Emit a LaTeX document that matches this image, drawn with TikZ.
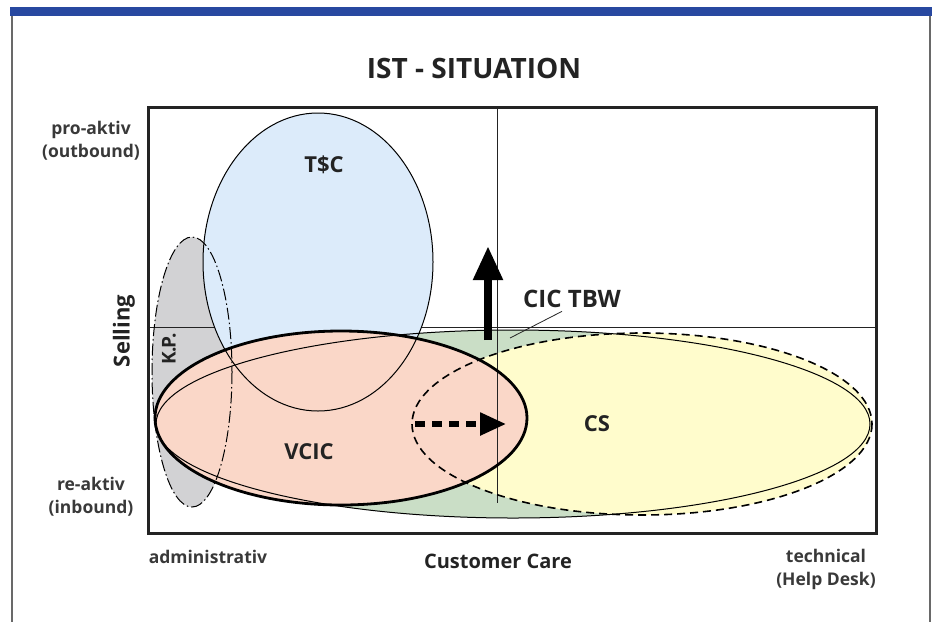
\documentclass[tikz,border=0pt]{standalone}
\usepackage{fontspec}
\setmainfont{Open Sans}
\usepackage{tikz}
\usetikzlibrary{arrows.meta,positioning}
\usepackage{xcolor}
\definecolor{istblue}{RGB}{40,72,160}
\definecolor{istframe}{RGB}{105,105,105}
\definecolor{istink}{RGB}{35,35,35}
\definecolor{tscblue}{RGB}{220,235,250}
\definecolor{kpgray}{RGB}{210,210,212}
\definecolor{vcicred}{RGB}{250,215,200}
\definecolor{tbwgreen}{RGB}{202,222,198}
\definecolor{csyellow}{RGB}{255,252,204}
\tikzstyle{frameline} = [line width=2pt, color=istframe]
\tikzstyle{gridline} = [line width=1pt, color=istink]
\tikzstyle{areatext} = [text=istink, font=\bfseries\fontsize{22}{26}\selectfont]
\tikzstyle{axistext} = [text=istink!90!white, font=\bfseries\fontsize{17.5}{23}\selectfont, align=center]
\tikzstyle{bigarrow} = [line width=8pt, -{Triangle[width=28pt,length=34pt]}, color=black]
\tikzstyle{movearrow} = [line width=5.5pt, dash pattern=on 10pt off 7pt, -{Triangle[width=22pt,length=26pt]}, color=black]

\begin{document}
\begin{tikzpicture}[x=1pt, y=-1pt]
\useasboundingbox (0,0) rectangle (936,622);
% Page frame
\fill[istblue] (10,7) rectangle (932,16);
\draw[frameline] (12,16) -- (12,622);
\draw[frameline] (930,16) -- (930,622);

\node (title) [text=istink, font=\bfseries\fontsize{28}{32}\selectfont] at (474,68) {IST - SITUATION};

% Areas
\fill[kpgray] (192,372) ellipse [x radius=40, y radius=135];
\fill[tbwgreen] (513,424) ellipse [x radius=357, y radius=94];
\fill[csyellow] (642,424) ellipse [x radius=230, y radius=91];
\draw[gridline] (148,327) -- (876,327);
\fill[tscblue] (318,262) ellipse [x radius=115, y radius=149];
\fill[vcicred] (341,418) ellipse [x radius=186, y radius=87];
\draw[gridline] (497,107) -- (497,503);

% Outlines
\draw[line width=1pt] (318,262) ellipse [x radius=115, y radius=149];
\draw[line width=1pt, dash pattern=on 12pt off 3pt on 1.5pt off 3pt] (192,372) ellipse [x radius=40, y radius=135];
\draw[line width=1pt] (513,424) ellipse [x radius=357, y radius=94];
\draw[line width=1.6pt, dash pattern=on 8pt off 5pt] (642,424) ellipse [x radius=230, y radius=91];
\draw[line width=2.8pt] (341,418) ellipse [x radius=186, y radius=87];

% Diagram box
\draw[line width=3pt, color=istink] (148,107) rectangle (876,533);

% Area names
\node (tsc) [areatext] at (324,165) {T\$C};
\node (kp) [areatext, rotate=90, font=\bfseries\fontsize{19}{21}\selectfont] at (169,349) {K.\kern-1.5pt P.};
\node (vcic) [areatext] at (309,452) {VCIC};
\node (cs) [areatext] at (597,424) {CS};
\node (tbw) [areatext, font=\bfseries\fontsize{24}{28}\selectfont] at (572,299) {CIC TBW};
\coordinate (tbwpt) at (510,338);
\draw[line width=0.8pt, color=istink] ([xshift=-10pt]tbw.south) -- (tbwpt);

% Moves
\coordinate (upfrom) at (488,340);
\coordinate (upto) at (488,246);
\draw[bigarrow] (upfrom) -- (upto);
\coordinate (rightfrom) at (415,424);
\coordinate (rightto) at (506,424);
\draw[movearrow] (rightfrom) -- (rightto);

% Axes
\node (selling) [areatext, rotate=90] at (124,331) {Selling};
\node (care) [areatext, font=\bfseries\fontsize{20}{24}\selectfont] at (498,561) {Customer Care};
\node (pro) [axistext] at (91,141) {pro-aktiv\\(outbound)};
\node (re) [axistext] at (91,497) {re-aktiv\\(inbound)};
\node (admin) [axistext] at (208,557) {administrativ};
\node (tech) [axistext] at (826,569) {technical\\(Help Desk)};
\end{tikzpicture}
\end{document}
